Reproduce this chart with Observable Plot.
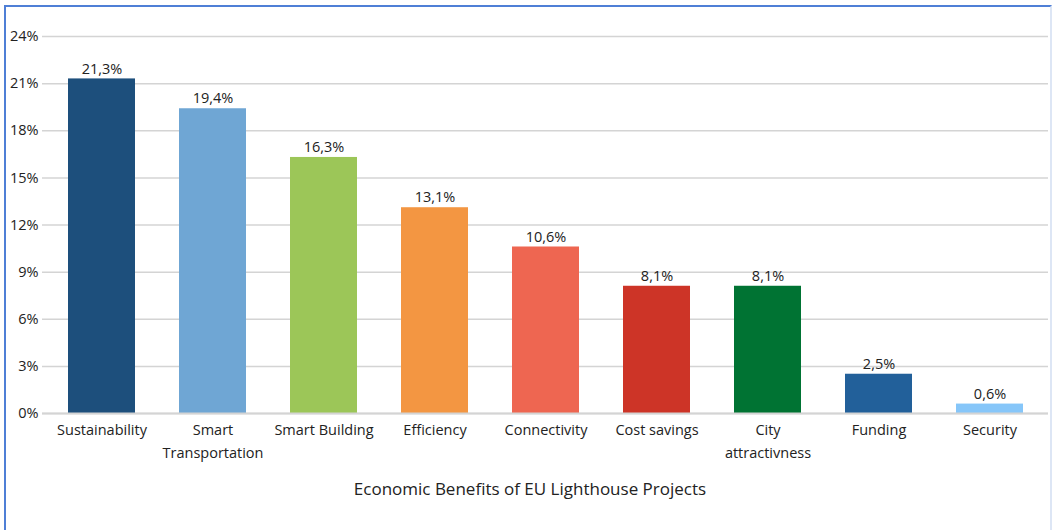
<!DOCTYPE html>
<html>
<head>
<meta charset="utf-8">
<script src="https://cdn.jsdelivr.net/npm/d3@7"></script>
<script src="https://cdn.jsdelivr.net/npm/@observablehq/plot@0.6"></script>
<style>
  html, body { margin: 0; padding: 0; background: #fff; overflow: hidden; }
  #frame { position: absolute; left: 4px; top: 5px; width: 1044px; height: 600px;
           border-top: 2px solid #4f7fd6; border-left: 2px solid #4f7fd6; border-right: 2px solid #dde6f5; }
  #chart { position: absolute; left: 0; top: 0; }
  #title { position: absolute; left: 0; width: 1060px; top: 477px; text-align: center;
           font-family: "Open Sans", sans-serif; font-size: 17px; color: #222; }
</style>
</head>
<body>
<div id="frame"></div>
<div id="chart"></div>
<div id="title">Economic Benefits of EU Lighthouse Projects</div>
<script>
const categories = ["Sustainability", "Smart Transportation", "Smart Building", "Efficiency", "Connectivity", "Cost savings", "City attractivness", "Funding", "Security"];
const tickLabels = ["Sustainability", "Smart\nTransportation", "Smart Building", "Efficiency", "Connectivity", "Cost savings", "City\nattractivness", "Funding", "Security"];
const values = [21.3, 19.4, 16.3, 13.1, 10.6, 8.1, 8.1, 2.5, 0.6];
const colors = ["#1d4f7c", "#6fa6d4", "#9cc658", "#f39642", "#ee6651", "#cd3427", "#007333", "#22609a", "#86c6f9"];
const yTicks = [0, 3, 6, 9, 12, 15, 18, 21, 24];

const data = categories.map((c, i) => ({cat: c, value: values[i], color: colors[i]}));
const labelOf = new Map(categories.map((c, i) => [c, tickLabels[i]]));
const fmt = v => v.toFixed(1).replace(".", ",") + "%";

const chart = Plot.plot({
  width: 1053,
  height: 470,
  marginTop: 36,
  marginBottom: 57,
  marginLeft: 42,
  marginRight: 5,
  style: {fontFamily: "'Open Sans', sans-serif", fontSize: "14px", color: "#222", background: "transparent"},
  x: {domain: categories, paddingInner: 0.4, paddingOuter: 0.2, label: null},
  y: {domain: [0, 24], label: null},
  marks: [
    Plot.gridY(yTicks, {stroke: "#d4d4d4", strokeOpacity: 1, strokeWidth: 1.5}),
    Plot.ruleX([0], {frameAnchor: "left", stroke: "#d4d4d4", strokeWidth: 1.5}),
    Plot.barY(data, {x: "cat", y: "value", fill: "color"}),
    Plot.ruleY([0], {stroke: "#d4d4d4", strokeWidth: 2}),
    Plot.text(data, {x: "cat", y: "value", text: d => fmt(d.value), dy: -10, fill: "#222", fontSize: 14.5}),
    Plot.axisX({tickSize: 0, tickPadding: 6, label: null, tickFormat: d => labelOf.get(d), lineHeight: 1.55, fontSize: 14.5, fill: "#222"}),
    Plot.axisY(yTicks, {tickSize: 0, tickPadding: 4, label: null, tickFormat: d => d + "%", fontSize: 14.5, fill: "#222"})
  ]
});
document.getElementById("chart").appendChild(chart);
</script>
</body>
</html>
